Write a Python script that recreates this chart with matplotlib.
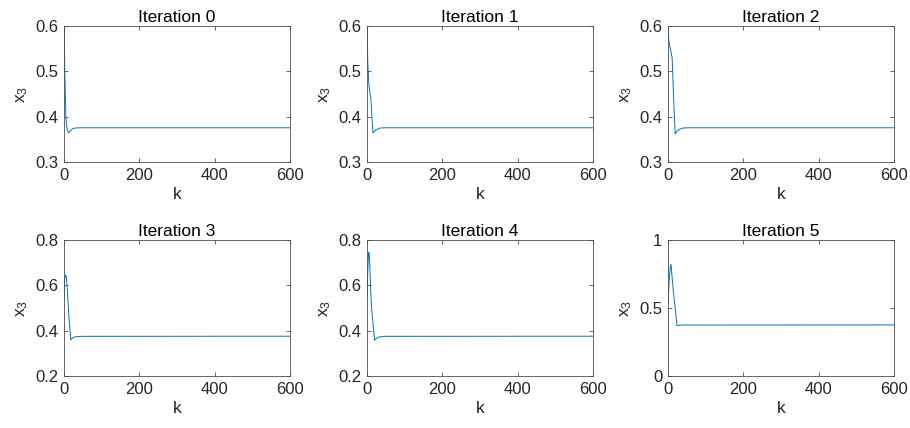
import matplotlib
matplotlib.use("Agg")
import matplotlib.pyplot as plt

plt.rcParams['font.family'] = ['Liberation Sans', 'DejaVu Sans']
plt.rcParams['mathtext.fontset'] = 'custom'
plt.rcParams['mathtext.rm'] = 'Liberation Sans'
plt.rcParams['mathtext.it'] = 'Liberation Sans'

# x3 trajectories per iteration (breakpoints)
k_iter0 = [0, 2, 5, 8, 12, 16, 22, 30, 45, 600]
x3_iter0 = [0.62, 0.50, 0.40, 0.372, 0.364, 0.368, 0.373, 0.375, 0.3755, 0.3755]

k_iter1 = [0, 2, 5, 8, 10, 13, 16, 20, 26, 35, 50, 600]
x3_iter1 = [0.62, 0.52, 0.47, 0.45, 0.444, 0.40, 0.364, 0.368, 0.372, 0.375, 0.3755, 0.3755]

k_iter2 = [0, 1, 3, 6, 11, 15, 19, 23, 30, 40, 55, 600]
x3_iter2 = [0.62, 0.58, 0.562, 0.55, 0.53, 0.44, 0.362, 0.367, 0.372, 0.375, 0.3755, 0.3755]

k_iter3 = [0, 2, 4, 6, 9, 13, 18, 22, 30, 45, 600]
x3_iter3 = [0.55, 0.63, 0.645, 0.64, 0.58, 0.46, 0.360, 0.367, 0.373, 0.375, 0.3755]

k_iter4 = [0, 2, 4, 6, 9, 12, 15, 20, 25, 32, 45, 600]
x3_iter4 = [0.54, 0.66, 0.745, 0.74, 0.62, 0.50, 0.45, 0.358, 0.366, 0.372, 0.375, 0.3755]

k_iter5 = [0, 3, 6, 8, 11, 15, 19, 24, 30, 45, 600]
x3_iter5 = [0.53, 0.70, 0.80, 0.82, 0.72, 0.60, 0.50, 0.37, 0.373, 0.375, 0.3755]

series = [(k_iter0, x3_iter0), (k_iter1, x3_iter1), (k_iter2, x3_iter2),
          (k_iter3, x3_iter3), (k_iter4, x3_iter4), (k_iter5, x3_iter5)]
titles = ["Iteration 0", "Iteration 1", "Iteration 2",
          "Iteration 3", "Iteration 4", "Iteration 5"]
y_limits = [(0.3, 0.6), (0.3, 0.6), (0.3, 0.6), (0.2, 0.8), (0.2, 0.8), (0, 1)]
y_ticks = [[0.3, 0.4, 0.5, 0.6]] * 3 + [[0.2, 0.4, 0.6, 0.8]] * 2 + [[0, 0.5, 1]]
y_ticklabels = [["0.3", "0.4", "0.5", "0.6"]] * 3 + [["0.2", "0.4", "0.6", "0.8"]] * 2 + [["0", "0.5", "1"]]
x_ticks = [0, 200, 400, 600]

fig = plt.figure(figsize=(9.1, 4.28), dpi=100)
lefts = [64 / 910, 367 / 910, 668 / 910]
bottoms = [266 / 428, 52 / 428]
width = 226 / 910
height = 136 / 428

text_color = '#262626'
axis_color = '#4d4d4d'

for i, ((k, x3), title) in enumerate(zip(series, titles)):
    ax = fig.add_axes([lefts[i % 3], bottoms[i // 3], width, height])
    ax.plot(k, x3, color='#0072BD', linewidth=0.7, clip_on=True)
    ax.set_xlim(0, 600)
    ax.set_ylim(*y_limits[i])
    ax.set_xticks(x_ticks)
    ax.set_xticklabels([str(t) for t in x_ticks])
    ax.set_yticks(y_ticks[i])
    ax.set_yticklabels(y_ticklabels[i])
    ax.tick_params(direction='in', top=True, right=True, length=3, width=0.6,
                   labelsize=12, colors=axis_color, labelcolor=text_color, pad=4)
    for spine in ax.spines.values():
        spine.set_color(axis_color)
        spine.set_linewidth(0.6)
    ax.set_title(title, fontsize=12.5, color='black', pad=3)
    ax.set_xlabel("k", fontsize=12.5, color=text_color, labelpad=3)
    ax.set_ylabel("x$_3$", fontsize=12.5, color=text_color, labelpad=4)

fig.savefig("out.png", dpi=100)
